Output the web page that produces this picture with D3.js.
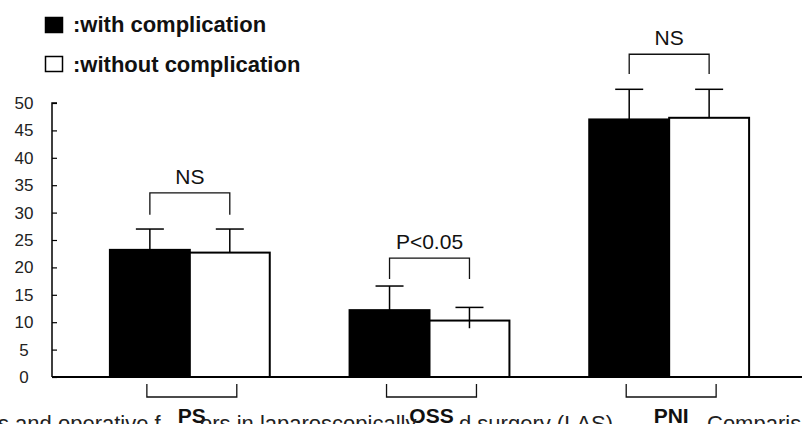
<!DOCTYPE html>
<html>
<head>
<meta charset="utf-8">
<script src="https://cdn.jsdelivr.net/npm/d3@7"></script>
<style>
  body { margin: 0; background: #fff; }
  svg { display: block; }
  text { font-family: "Liberation Sans", Arial, sans-serif; }
</style>
</head>
<body>
<div id="plot"></div>
<script>

// ############ DATA ###############

const categories = ["PS", "OSS", "PNI"];
const groups = ["with", "without"];
const groupLabels = [":with complication", ":without complication"];

const withMeans = [23.2, 12.2, 47.0];
const withoutMeans = [22.7, 10.3, 47.3];
const withSD = [3.8, 4.4, 5.5];
const withoutSD = [4.3, 2.4, 5.2];
// lower whisker only shows on the white OSS bar
const withoutLower = [null, 8.9, null];

const sigLabels = ["NS", "P<0.05", "NS"];
const sigTop = [33.6, 21.7, 58.9];
const sigLeg = [29.6, 17.9, 55.3];

const yTicks = [0, 5, 10, 15, 20, 25, 30, 35, 40, 45, 50];

const captionParts = ["s and operative f", "ors in laparoscopically", "d surgery (LAS)", "Comparis"];

// ############ SETUP ###############

const w = 802, h = 424;
const base = 377, top50 = 103;

const svg = d3.select("div#plot")
  .append("svg")
  .attr("width", w)
  .attr("height", h);

const yScale = d3.scaleLinear().domain([0, 50]).range([base, top50]);

const x0 = d3.scaleBand()
  .domain(categories)
  .range([70, 789])
  .paddingInner(0.333)
  .paddingOuter(0.1665);

const x1 = d3.scaleBand()
  .domain(groups)
  .range([0, x0.bandwidth()]);

const data = categories.map((c, i) => ({
  cat: c,
  bars: [
    {g: "with", mean: withMeans[i], sd: withSD[i], lower: null},
    {g: "without", mean: withoutMeans[i], sd: withoutSD[i], lower: withoutLower[i]}
  ],
  sig: sigLabels[i], top: sigTop[i], leg: sigLeg[i]
}));

const cx = (c, g) => x0(c) + x1(g) + x1.bandwidth() / 2;

// ############ LEGEND ###############

const legend = svg.append("g").attr("id", "legend");

legend.selectAll("rect")
  .data(groups)
  .enter()
  .append("rect")
    .attr("x", 45.5)
    .attr("y", (d, i) => 17.5 + i * 39)
    .attr("width", 17)
    .attr("height", 15)
    .attr("fill", d => d == "with" ? "#000" : "#fff")
    .attr("stroke", "#000")
    .attr("stroke-width", 1.5);

legend.selectAll("text")
  .data(groupLabels)
  .enter()
  .append("text")
    .attr("x", 73)
    .attr("y", (d, i) => 32 + i * 40)
    .attr("font-size", 22)
    .attr("font-weight", "bold")
    .attr("fill", "#111")
    .text(d => d);

// ############ Y AXIS ###############

const yAxis = d3.axisRight(yScale)
  .tickValues(yTicks)
  .tickSize(5)
  .tickFormat("");

svg.append("g")
  .attr("id", "yaxis")
  .attr("transform", "translate(52, 0)")
  .call(yAxis)
  .call(g => g.select(".domain").attr("d", `M5,${top50}H0V${base}`).attr("stroke-width", 1.5))
  .call(g => g.selectAll(".tick line").attr("stroke-width", 1.2));

svg.append("g")
  .attr("id", "ylabels")
  .selectAll("text")
  .data(yTicks)
  .enter()
  .append("text")
    .attr("x", 24)
    .attr("y", d => yScale(d) + 6)
    .attr("text-anchor", "middle")
    .attr("font-size", 17)
    .attr("fill", "#222")
    .text(d => d);

// ############ BARS ###############

const cats = svg.selectAll("g.cat")
  .data(data)
  .enter()
  .append("g")
    .attr("class", "cat");

cats.selectAll("rect")
  .data(d => d.bars.map(b => ({...b, cat: d.cat})))
  .enter()
  .append("rect")
    .attr("x", d => x0(d.cat) + x1(d.g))
    .attr("y", d => yScale(d.mean))
    .attr("width", x1.bandwidth())
    .attr("height", d => yScale(0) - yScale(d.mean))
    .attr("fill", d => d.g == "with" ? "#000" : "#fff")
    .attr("stroke", "#000")
    .attr("stroke-width", 2);

// error bars
const err = cats.selectAll("g.err")
  .data(d => d.bars.map(b => ({...b, cat: d.cat})))
  .enter()
  .append("g")
    .attr("class", "err")
    .attr("stroke", "#000")
    .attr("stroke-width", 1.5);

err.append("line")
  .attr("x1", d => cx(d.cat, d.g))
  .attr("x2", d => cx(d.cat, d.g))
  .attr("y1", d => yScale(d.lower == null ? d.mean : d.lower))
  .attr("y2", d => yScale(d.mean + d.sd));

err.append("line")
  .attr("x1", d => cx(d.cat, d.g) - 14)
  .attr("x2", d => cx(d.cat, d.g) + 14)
  .attr("y1", d => yScale(d.mean + d.sd))
  .attr("y2", d => yScale(d.mean + d.sd));

// ############ SIGNIFICANCE ###############

cats.append("path")
  .attr("fill", "none")
  .attr("stroke", "#111")
  .attr("stroke-width", 1.3)
  .attr("d", d => {
    const a = cx(d.cat, "with"), b = cx(d.cat, "without");
    return `M${a},${yScale(d.leg)}V${yScale(d.top)}H${b}V${yScale(d.leg)}`;
  });

cats.append("text")
  .attr("x", d => (cx(d.cat, "with") + cx(d.cat, "without")) / 2)
  .attr("y", d => yScale(d.top) - 9)
  .attr("text-anchor", "middle")
  .attr("font-size", 21)
  .attr("fill", "#111")
  .text(d => d.sig);

// ############ X AXIS ###############

svg.append("line")
  .attr("x1", 52)
  .attr("x2", w)
  .attr("y1", base)
  .attr("y2", base)
  .attr("stroke", "#000")
  .attr("stroke-width", 2);

// brackets under each category
cats.append("path")
  .attr("fill", "none")
  .attr("stroke", "#111")
  .attr("stroke-width", 1.3)
  .attr("d", d => {
    const a = cx(d.cat, "with") - 3, b = cx(d.cat, "without") + 7;
    return `M${a},384V397H${b}V384`;
  });

// ############ CAPTION (cut off) ###############

svg.append("g")
  .attr("id", "caption")
  .selectAll("text")
  .data(captionParts)
  .enter()
  .append("text")
    .attr("x", (d, i) => [-2, 200, 459, 707][i])
    .attr("y", 431)
    .attr("font-family", "Liberation Serif, Times New Roman, serif")
    .attr("font-size", 22)
    .attr("fill", "#222")
    .text(d => d);

// category labels with white backing
const labs = cats.append("g");

labs.append("text")
  .attr("x", d => (cx(d.cat, "with") + cx(d.cat, "without")) / 2 + 2)
  .attr("y", 423)
  .attr("text-anchor", "middle")
  .attr("font-size", 21)
  .attr("font-weight", "bold")
  .attr("fill", "#111")
  .text(d => d.cat);

labs.each(function() {
  const t = d3.select(this).select("text");
  const bb = t.node().getBBox();
  d3.select(this).insert("rect", "text")
    .attr("x", bb.x - 4)
    .attr("y", 404)
    .attr("width", bb.width + 8)
    .attr("height", 20)
    .attr("fill", "#fff");
});

</script>
</body>
</html>
